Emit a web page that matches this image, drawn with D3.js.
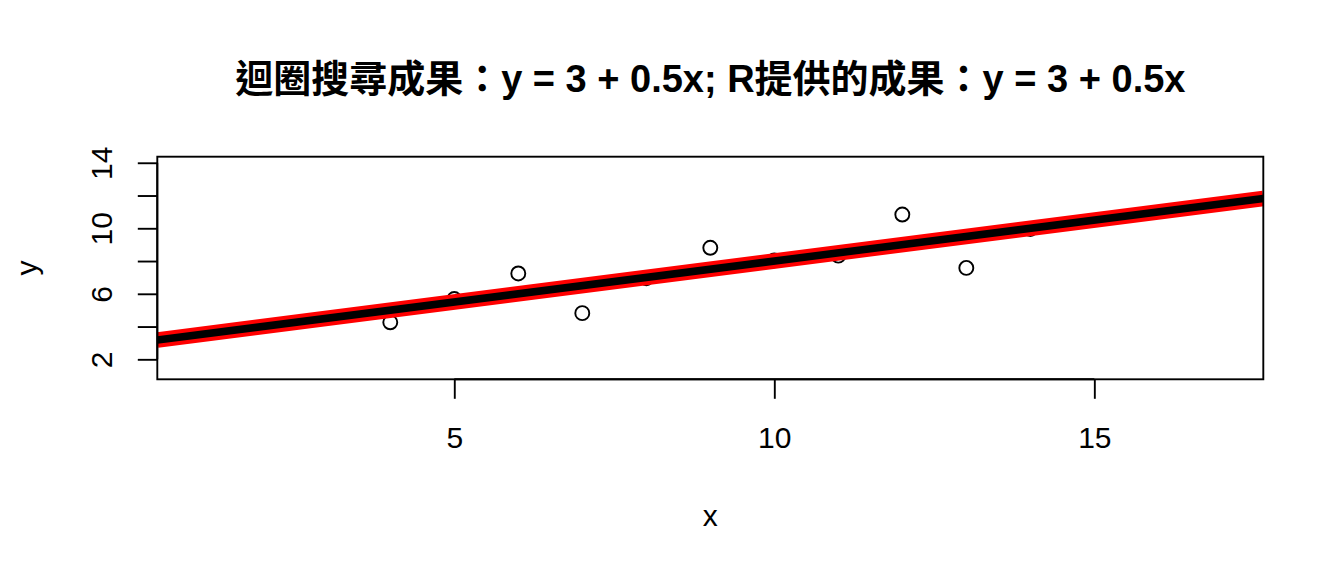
<!DOCTYPE html>
<html><head><meta charset="utf-8">
<script src="https://cdn.jsdelivr.net/npm/d3@7/dist/d3.min.js"></script>
<style>body{margin:0;background:#fff}svg{display:block}text{font-family:"Liberation Sans","Noto Sans CJK TC",sans-serif}</style>
</head><body><svg id="c" width="1344" height="576"></svg>
<script>
const xs = [10, 8, 13, 9, 11, 14, 6, 4, 12, 7, 5];
const ys = [8.04, 6.95, 7.58, 8.81, 8.33, 9.96, 7.24, 4.26, 10.84, 4.82, 5.68];
const xTicks = [5, 10, 15];
const yTicks = [2, 4, 6, 8, 10, 12, 14];
const yLabels = [2, 6, 10, 14];
const fitIntercept = 3, fitSlope = 0.5;
const titleText = "迴圈搜尋成果：y = 3 + 0.5x; R提供的成果：y = 3 + 0.5x";

const svg = d3.select("#c");
const L = 157.3, R = 1263.3, T = 156.7, B = 379.3;
const x = d3.scaleLinear().domain([0.36, 17.64]).range([L, R]);
const y = d3.scaleLinear().domain([0.78, 14.37]).range([B, T]);

svg.append("defs").append("clipPath").attr("id", "clip")
  .append("rect").attr("x", L).attr("y", T).attr("width", R - L).attr("height", B - T);

// points
svg.append("g").selectAll("circle").data(xs.map((d, i) => [d, ys[i]])).join("circle")
  .attr("cx", d => x(d[0])).attr("cy", d => y(d[1])).attr("r", 7)
  .attr("fill", "none").attr("stroke", "#000").attr("stroke-width", 1.9);

// fit lines
const xd = x.domain();
const lineData = xd.map(v => [v, fitIntercept + fitSlope * v]);
const ln = d3.line().x(d => x(d[0])).y(d => y(d[1]));
const gl = svg.append("g").attr("clip-path", "url(#clip)");
gl.append("path").datum(lineData).attr("d", ln).attr("stroke", "#ff0000").attr("stroke-width", 15.5).attr("fill", "none");
gl.append("path").datum(lineData).attr("d", ln).attr("stroke", "#000").attr("stroke-width", 7.5).attr("fill", "none");

// box
svg.append("rect").attr("x", L).attr("y", T).attr("width", R - L).attr("height", B - T)
  .attr("fill", "none").attr("stroke", "#000").attr("stroke-width", 1.9);

// x axis
const xa = d3.axisBottom(x).tickValues(xTicks).tickSize(19.5).tickFormat(d3.format("d"));
const gx = svg.append("g").attr("transform", `translate(0,${B})`).call(xa);
gx.select(".domain").attr("d", `M${x(xTicks[0])},0H${x(xTicks[xTicks.length-1])}`).attr("stroke-width", 1.9);
gx.selectAll(".tick line").attr("stroke-width", 1.9);
gx.selectAll(".tick text").attr("font-size", 30).attr("font-family", "Liberation Sans").attr("fill", "#000")
  .attr("y", 68.5).attr("dy", null);

// y axis
const ya = d3.axisLeft(y).tickValues(yTicks).tickSize(19.5).tickFormat(d => yLabels.includes(d) ? d : "");
const gy = svg.append("g").attr("transform", `translate(${L},0)`).call(ya);
gy.select(".domain").attr("d", `M0,${y(yTicks[0])}V${y(yTicks[yTicks.length-1])}`).attr("stroke-width", 1.9);
gy.selectAll(".tick line").attr("stroke-width", 1.9);
gy.selectAll(".tick text").attr("font-size", 30).attr("font-family", "Liberation Sans").attr("fill", "#000")
  .attr("x", null).attr("dy", null).attr("text-anchor", "middle")
  .attr("transform", "translate(-45,0) rotate(-90)");

// axis titles
svg.append("text").attr("x", (L + R) / 2).attr("y", 526).attr("text-anchor", "middle")
  .attr("font-size", 30).text("x");
svg.append("text").attr("transform", `translate(37,${(T + B) / 2}) rotate(-90)`).attr("text-anchor", "middle")
  .attr("font-size", 30).text("y");

// title
svg.append("text").attr("x", (L + R) / 2).attr("y", 92).attr("text-anchor", "middle")
  .attr("font-size", 38).attr("font-weight", "bold").text(titleText);
</script></body></html>
